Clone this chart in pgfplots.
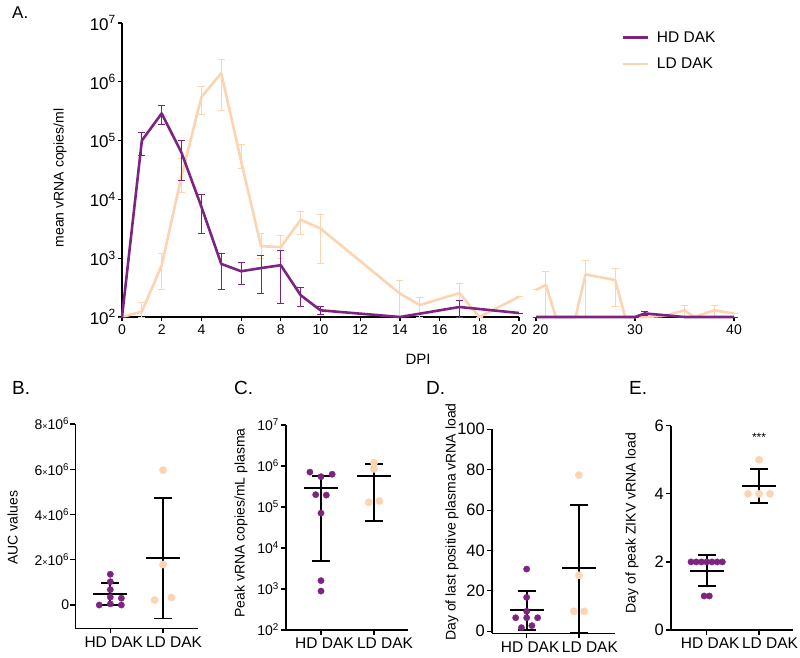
\documentclass[border=0pt]{standalone}
\usepackage{pgfplots}
\pgfplotsset{compat=1.18}
\usepackage{pgfplotstable}
\usepackage{fontspec}
\setmainfont{Liberation Sans}
\definecolor{hdc}{RGB}{125,35,130}
\definecolor{ldc}{RGB}{252,212,178}
\newcommand\fs[1]{\fontsize{#1}{#1}\selectfont}

\pgfplotstableread{
x y lo hi
0 100 100 100
1 1.0e5 5.7e4 1.4e5
2 2.9e5 1.85e5 3.9e5
3 6.2e4 2.1e4 1.0e5
4 7.5e3 2.6e3 1.2e4
5 800 300 1200
6 600 360 850
7 680 250 1100
8 760 170 1350
9 235 150 320
10 130 110 150
14 100 100 100
17 148 100 190
20 117 117 117
}\hdA
\pgfplotstableread{
x y lo hi
20 100 100 100
21 100 100 100
30 100 100 100
31 115 105 125
35 100 100 100
40 100 100 100
}\hdB
\pgfplotstableread{
x y lo hi
0 100 100 100
1 123 100 175
2 760 290 1200
3 2.5e4 1.3e4 4.9e4
4 5.5e5 2.8e5 8.5e5
5 1.4e6 3.2e5 2.4e6
6 4.5e4 3.3e4 8.7e4
7 1600 1000 2600
8 1550 1000 2400
9 4500 2500 6300
10 3200 820 5600
14 250 100 420
15 160 100 213
17 255 100 373
18 100 100 100
20 220 220 220
}\ldA
\pgfplotstableread{
x y lo hi
20 290 290 290
21 350 100 590
22 100 100 100
24 100 100 100
25 530 100 930
28 425 150 670
29 100 100 100
31 100 100 100
33 105 105 105
35 130 100 160
36 100 100 100
38 130 100 160
40 115 115 115
}\ldB

\pgfplotsset{
  base/.style={scale only axis, axis x line*=bottom, axis y line*=left,
    axis line style={line width=1.2pt, black}, tick style={line width=1.2pt, black},
    tick align=outside, major tick length=4pt, clip=false, anchor=south west,
    /pgf/number format/assume math mode=true},
  hdline/.style={hdc, line width=2.6pt, line join=round, no marks,
    error bars/.cd, y dir=both, y explicit,
    error bar style={line width=0.9pt, hdc},
    error mark options={rotate=90, hdc, line width=0.9pt, mark size=3.5pt}},
  ldline/.style={ldc, line width=2.6pt, line join=round, no marks,
    error bars/.cd, y dir=both, y explicit,
    error bar style={line width=0.9pt, ldc},
    error mark options={rotate=90, ldc, line width=0.9pt, mark size=3.5pt}},
  lower/.style={base, major tick length=5pt, xtick={0,1},
    xticklabels={{\hspace*{7pt}HD DAK},{\hspace*{22pt}LD DAK}},
    x tick label style={font=\fs{15.5}, inner sep=3pt}, scaled y ticks=false},
  msd/.style={only marks, black, mark=-, mark size=17pt, mark options={line width=1.7pt, draw=black},
    error bars/.cd, y dir=both, y explicit,
    error bar style={line width=1.7pt, black},
    error mark options={rotate=90, black, line width=1.7pt, mark size=9pt}},
  hdpt/.style={only marks, draw=hdc, fill=hdc, line width=0.3pt, mark=*, mark size=3.2pt},
  ldpt/.style={only marks, draw=ldc, fill=ldc, line width=0.3pt, mark=*, mark size=3.7pt},
}

\begin{document}
\begin{tikzpicture}
\path[use as bounding box] (0pt,0pt) rectangle (800pt,-657pt);

% Panel A left
\begin{axis}[base, at={(122pt,-317pt)}, width=397pt, height=294pt,
  xmin=0, xmax=20, ymode=log, ymin=100, ymax=1e7,
  xtick={0,2,...,20}, ytick={1e2,1e3,1e4,1e5,1e6,1e7},
  yticklabels={10\textsuperscript{2},10\textsuperscript{3},10\textsuperscript{4},10\textsuperscript{5},10\textsuperscript{6},10\textsuperscript{7}},
  yminorticks=false,
  x tick label style={font=\fs{14}}, y tick label style={font=\fs{17}, inner sep=2pt}]
\addplot[ldline] table[x=x, y=y, y error plus expr=\thisrow{hi}-\thisrow{y}, y error minus expr=\thisrow{y}-\thisrow{lo}] {\ldA};
\addplot[hdline] table[x=x, y=y, y error plus expr=\thisrow{hi}-\thisrow{y}, y error minus expr=\thisrow{y}-\thisrow{lo}] {\hdA};
\end{axis}

% Panel A right
\begin{axis}[base, axis y line=none, at={(536pt,-317pt)}, width=198pt, height=294pt,
  xmin=20, xmax=40, ymode=log, ymin=100, ymax=1e7,
  xtick={20,30,40}, xticklabels={{\hspace*{9pt}20},30,40}, ytick=\empty, yminorticks=false,
  x tick label style={font=\fs{14}},
  legend style={draw=none, fill=none, at={(rel axis cs:0.415,0.985)}, anchor=north west,
    font=\fs{15.5}, row sep=10pt, cells={anchor=west}},
  legend image code/.code={\draw[#1] (0pt,0pt) -- (25pt,0pt);}]
\addlegendimage{hdc, line width=2.6pt}
\addlegendentry{\hspace*{6pt}HD DAK}
\addlegendimage{ldc, line width=2.6pt}
\addlegendentry{\hspace*{6pt}LD DAK}
\addplot[ldline] table[x=x, y=y, y error plus expr=\thisrow{hi}-\thisrow{y}, y error minus expr=\thisrow{y}-\thisrow{lo}] {\ldB};
\addplot[hdline] table[x=x, y=y, y error plus expr=\thisrow{hi}-\thisrow{y}, y error minus expr=\thisrow{y}-\thisrow{lo}] {\hdB};
\end{axis}

% Panel B
\begin{axis}[lower, at={(75.3pt,-628.3pt)}, width=122.4pt, height=204.3pt,
  xmin=-0.664, xmax=1.658, ymin=-1.03e6, ymax=8e6,
  ytick={0,2e6,4e6,6e6,8e6},
  yticklabels={0,{2{\fs{9}×}10\textsuperscript{6}},{4{\fs{9}×}10\textsuperscript{6}},{6{\fs{9}×}10\textsuperscript{6}},{8{\fs{9}×}10\textsuperscript{6}}},
  y tick label style={font=\fs{14}, inner sep=1pt}]
\addplot[msd] coordinates {(0,490000) += (0,490000) -= (0,490000) (1,2070000) += (0,2670000) -= (0,2670000)};
\addplot[hdpt] coordinates {(0,1.36e6) (0,1.03e6) (0,0.68e6) (0,0.35e6) (0.21,0.30e6) (0,0.05e6) (-0.21,0) (0.21,0)};
\addplot[ldpt] coordinates {(1,5.96e6) (1,1.79e6) (0.84,0.22e6) (1.16,0.33e6)};
\end{axis}

% Panel C
\begin{axis}[lower, at={(286pt,-630pt)}, width=122pt, height=205pt,
  xmin=-0.66, xmax=1.64, ymode=log, ymin=100, ymax=1e7, yminorticks=false,
  ytick={1e2,1e3,1e4,1e5,1e6,1e7},
  yticklabels={10\textsuperscript{2},10\textsuperscript{3},10\textsuperscript{4},10\textsuperscript{5},10\textsuperscript{6},10\textsuperscript{7}},
  y tick label style={font=\fs{14}, inner sep=2pt}]
\addplot[msd] coordinates {(0,2.95e5) += (0,2.8e5) -= (0,2.902e5) (1,5.75e5) += (0,5.45e5) -= (0,5.29e5)};
\addplot[hdpt] coordinates {(-0.21,7.1e5) (0,5.5e5) (0.21,6.3e5) (-0.1,2.0e5) (0.1,1.95e5) (0,7.1e4) (0,1.6e3) (0,890)};
\addplot[ldpt] coordinates {(1,1.2e6) (1,8.5e5) (0.9,1.3e5) (1.1,1.4e5)};
\end{axis}

% Panel D
\begin{axis}[lower, at={(492pt,-633.3pt)}, width=123pt, height=204pt,
  xmin=-0.663, xmax=1.69, ymin=-1, ymax=100,
  ytick={0,20,40,60,80,100}, y tick label style={font=\fs{16.5}, inner sep=2pt}]
\addplot[msd] coordinates {(0,10.4) += (0,9.4) -= (0,9.6) (1,31.2) += (0,31.5) -= (0,31.9)};
\addplot[hdpt] coordinates {(0,30.8) (0,16.8) (0,9.9) (-0.21,6.7) (0,6.7) (0.21,6.7) (-0.1,1.8) (0.1,2.8)};
\addplot[ldpt] coordinates {(1,77.3) (1,27.7) (0.9,9.9) (1.1,9.9)};
\end{axis}

% Panel E
\begin{axis}[lower, at={(671pt,-630pt)}, width=122pt, height=204.3pt,
  xmin=-0.683, xmax=1.65, ymin=0, ymax=6,
  ytick={0,2,4,6}, y tick label style={font=\fs{16.5}, inner sep=2pt}]
\addplot[msd] coordinates {(0,1.74) += (0,0.46) -= (0,0.45) (1,4.23) += (0,0.5) -= (0,0.5)};
\addplot[hdpt] coordinates {(-0.3,2) (-0.2,2) (-0.1,2) (0,2) (0.1,2) (0.2,2) (0.3,2) (-0.05,1) (0.05,1)};
\addplot[ldpt] coordinates {(1,5) (0.79,4) (1,4) (1.21,4)};
\node[font=\fs{12}] at (axis cs:1,5.66) {***};
\end{axis}

% Labels
\node[rotate=90, font=\fs{14}] at (60pt,-178pt) {mean vRNA copies/ml};
\node[font=\fs{15}] at (418pt,-359pt) {DPI};
\node[anchor=west, inner sep=0pt, font=\fs{17}] at (12pt,-13pt) {A.};
\node[anchor=west, inner sep=0pt, font=\fs{19}] at (12pt,-388pt) {B.};
\node[anchor=west, inner sep=0pt, font=\fs{19}] at (234pt,-388pt) {C.};
\node[anchor=west, inner sep=0pt, font=\fs{19}] at (426pt,-388pt) {D.};
\node[anchor=west, inner sep=0pt, font=\fs{19}] at (629pt,-388pt) {E.};
\node[rotate=90, font=\fs{14}] at (12.5pt,-527.5pt) {AUC values};
\node[rotate=90, font=\fs{14}] at (241pt,-523pt) {Peak vRNA copies/mL plasma};
\node[rotate=90, font=\fs{14}] at (452pt,-522pt) {Day of last positive plasma vRNA load};
\node[rotate=90, font=\fs{14}] at (632pt,-523pt) {Day of peak ZIKV vRNA load};
\end{tikzpicture}
\end{document}
